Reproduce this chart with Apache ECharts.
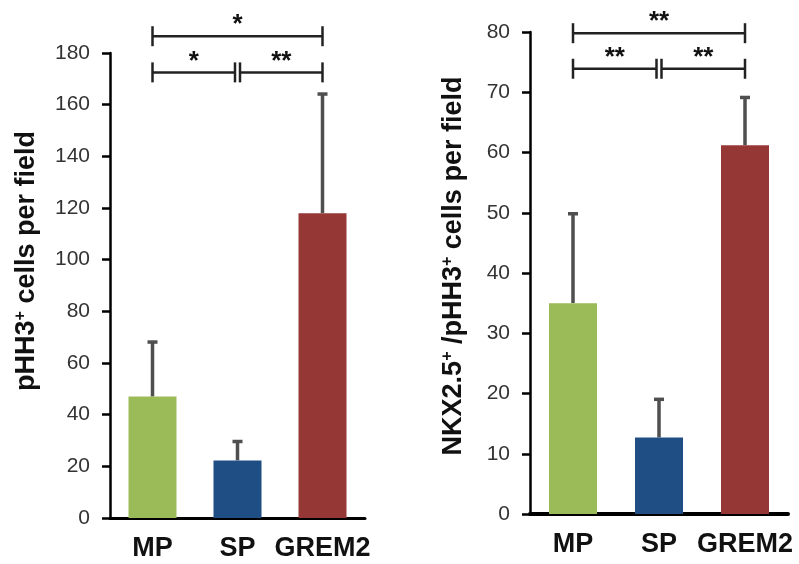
<!DOCTYPE html>
<html>
<head>
    <meta charset="utf-8">
    <title>pHH3 / NKX2.5</title>
    <script src="https://cdn.jsdelivr.net/npm/echarts@6/dist/echarts.min.js"></script>
</head>
<body style="margin:0">
    <div id="container" style="width: 799px;height:564px;"></div>
    <script type="text/javascript">
        // groups on the x axis
        var categories = ['MP', 'SP', 'GREM2'];

        // left panel: pHH3+ cells per field (mean, mean + error)
        var pHH3Mean = [47, 22.3, 118];
        var pHH3Upper = [68.5, 30, 164.5];
        // right panel: NKX2.5+/pHH3+ cells per field
        var nkxMean = [35, 12.7, 61.2];
        var nkxUpper = [50, 19.2, 69.3];

        // significance brackets: [from, to, height, stars]
        var pHH3Brackets = [[0, 2, 186.5, '*'], [0, 1, 172.5, '*'], [1, 2, 172.5, '**']];
        var nkxBrackets = [[0, 2, 79.8, '**'], [0, 1, 73.9, '**'], [1, 2, 73.9, '**']];

        var barColors = ['#9bbb59', '#1f4e84', '#953735'];
        var font = '"Liberation Sans", Arial, sans-serif';

        var myChart = echarts.init(document.getElementById('container'));

        function errorRender(params, api) {
            var top = api.coord([api.value(0), api.value(2)]);
            var base = api.coord([api.value(0), api.value(1)]);
            var st = { stroke: '#4f4f4f', lineWidth: 3.5 };
            return {
                type: 'group',
                children: [
                    { type: 'line', shape: { x1: base[0], y1: base[1], x2: top[0], y2: top[1] + 1 }, style: st },
                    { type: 'line', shape: { x1: top[0] - 5, y1: top[1] + 1, x2: top[0] + 5, y2: top[1] + 1 }, style: st }
                ]
            };
        }

        function bracketRender(list) {
            return function (params, api) {
                var b = list[params.dataIndex];
                var p1 = api.coord([b[0], b[2]]);
                var p2 = api.coord([b[1], b[2]]);
                var x1 = p1[0] + (b[0] === 1 ? 2.5 : 0);   // small gap at the shared middle bar
                var x2 = p2[0] - (b[1] === 1 ? 2.5 : 0);
                var y = p1[1];
                var st = { stroke: '#222', lineWidth: 2.5 };
                return {
                    type: 'group',
                    children: [
                        { type: 'line', shape: { x1: x1, y1: y, x2: x2, y2: y }, style: st },
                        { type: 'line', shape: { x1: x1, y1: y - 10, x2: x1, y2: y + 10 }, style: st },
                        { type: 'line', shape: { x1: x2, y1: y - 10, x2: x2, y2: y + 10 }, style: st },
                        {
                            type: 'text',
                            style: {
                                text: b[3], x: (x1 + x2) / 2, y: y - 11,
                                align: 'center', verticalAlign: 'middle',
                                font: 'bold 26px ' + font, fill: '#111'
                            }
                        }
                    ]
                };
            };
        }

        function xAxisCfg(grid, width) {
            return {
                type: 'category',
                gridIndex: grid,
                data: categories,
                axisTick: { show: false },
                axisLine: { lineStyle: { color: '#000', width: width } },
                axisLabel: { interval: 0, hideOverlap: false, fontSize: 27, fontWeight: 'bold', color: '#111', fontFamily: font, margin: 17 }
            };
        }

        function yAxisCfg(grid, max, interval, name, gap, shift) {
            return {
                type: 'value',
                gridIndex: grid,
                min: 0,
                max: max,
                interval: interval,
                name: name,
                nameLocation: 'middle',
                nameRotate: 90,
                nameGap: gap,
                nameTextStyle: {
                    fontSize: 27, fontWeight: 'bold', color: '#111', fontFamily: font,
                    padding: [0, 0, 0, shift],
                    rich: { sup: { fontSize: 16, fontWeight: 'bold', color: '#111', fontFamily: font, verticalAlign: 'top' } }
                },
                splitLine: { show: false },
                axisLine: { show: true, lineStyle: { color: '#000', width: 2.5 } },
                axisTick: { show: true, length: 8, lineStyle: { color: '#000', width: 2.5 } },
                axisLabel: { fontSize: 21, color: '#333', fontFamily: font, margin: 20 }
            };
        }

        var option = {
            animation: false,
            color: barColors,
            grid: [
                { left: 110, width: 255, top: 53, bottom: 46 },
                { left: 530, width: 258, top: 32, bottom: 50 }
            ],
            xAxis: [xAxisCfg(0, 3), xAxisCfg(1, 4)],
            yAxis: [
                yAxisCfg(0, 180, 20, 'pHH3{sup|+} cells per field', 70, 49),
                yAxisCfg(1, 80, 10, 'NKX2.5{sup|+} /pHH3{sup|+} cells per field', 63, 14)
            ],
            series: [
                { type: 'bar', xAxisIndex: 0, yAxisIndex: 0, colorBy: 'data', barWidth: 48, data: pHH3Mean },
                { type: 'bar', xAxisIndex: 1, yAxisIndex: 1, colorBy: 'data', barWidth: 48, data: nkxMean },
                {
                    type: 'custom', xAxisIndex: 0, yAxisIndex: 0, renderItem: errorRender,
                    encode: { x: 0, y: [1, 2] },
                    data: categories.map(function (c, i) { return [i, pHH3Mean[i], pHH3Upper[i]]; })
                },
                {
                    type: 'custom', xAxisIndex: 1, yAxisIndex: 1, renderItem: errorRender,
                    encode: { x: 0, y: [1, 2] },
                    data: categories.map(function (c, i) { return [i, nkxMean[i], nkxUpper[i]]; })
                },
                {
                    type: 'custom', xAxisIndex: 0, yAxisIndex: 0, clip: false,
                    renderItem: bracketRender(pHH3Brackets),
                    encode: { x: [0, 1], y: 2 },
                    data: pHH3Brackets.map(function (b) { return [b[0], b[1], b[2]]; })
                },
                {
                    type: 'custom', xAxisIndex: 1, yAxisIndex: 1, clip: false,
                    renderItem: bracketRender(nkxBrackets),
                    encode: { x: [0, 1], y: 2 },
                    data: nkxBrackets.map(function (b) { return [b[0], b[1], b[2]]; })
                }
            ]
        };

        myChart.setOption(option);
    </script>
</body>
</html>
